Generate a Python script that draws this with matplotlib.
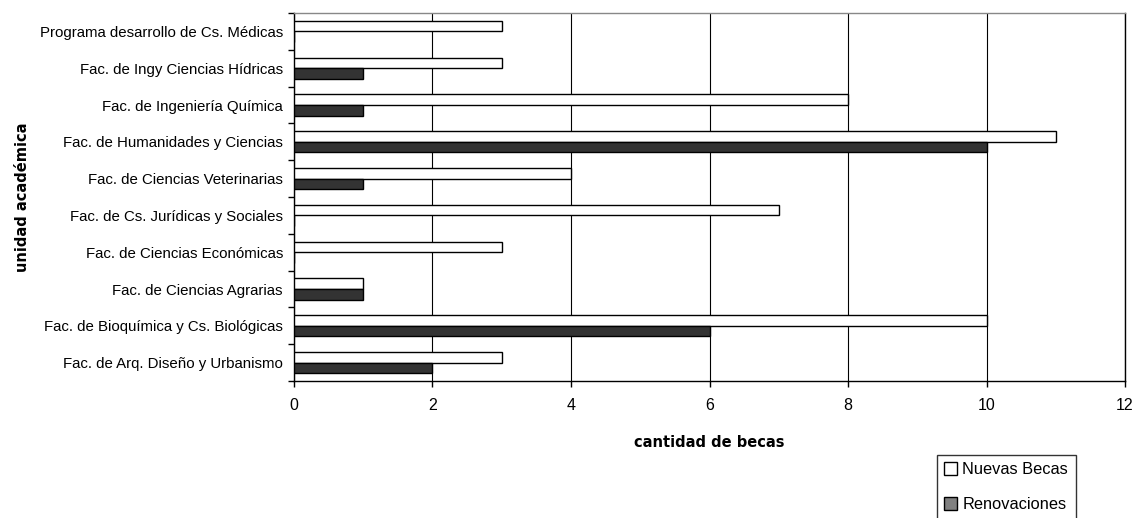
import matplotlib
matplotlib.use("Agg")
import matplotlib.pyplot as plt
from matplotlib.patches import Patch
import numpy as np

# categories bottom -> top, as they show on the chart
unidades = [
    "Fac. de Arq. Diseño y Urbanismo",
    "Fac. de Bioquímica y Cs. Biológicas",
    "Fac. de Ciencias Agrarias",
    "Fac. de Ciencias Económicas",
    "Fac. de Cs. Jurídicas y Sociales",
    "Fac. de Ciencias Veterinarias",
    "Fac. de Humanidades y Ciencias",
    "Fac. de Ingeniería Química",
    "Fac. de Ingy Ciencias Hídricas",
    "Programa desarrollo de Cs. Médicas",
]
nuevas = [3, 10, 1, 3, 7, 4, 11, 8, 3, 3]
renovaciones = [2, 6, 1, 0, 0, 1, 10, 1, 1, 0]
xticks = [0, 2, 4, 6, 8, 10, 12]

plt.rcParams['font.family'] = ['Liberation Sans', 'DejaVu Sans']

fig = plt.figure(figsize=(11.39, 5.18), dpi=100)
ax = fig.add_axes([294/1139, 1-381/518, (1125-294)/1139, (381-13)/518])

y = np.arange(len(unidades))
h = 0.29
ax.barh(y + h/2, nuevas, height=h, color='white', edgecolor='black', linewidth=1, zorder=3)
ax.barh(y - h/2, renovaciones, height=h, color='#333333', edgecolor='black', linewidth=1, zorder=3)

ax.set_xlim(0, 12)
ax.set_ylim(-0.5, len(unidades) - 0.5)
ax.set_xticks(xticks)
ax.set_xticklabels([str(v) for v in xticks], fontsize=11.5)
ax.set_yticks(y)
ax.set_yticklabels(unidades, fontsize=10.8)
ax.tick_params(axis='y', length=0, pad=8)
# little ticks between categories
ax.set_yticks(np.arange(-0.5, len(unidades)), minor=True)
ax.tick_params(axis='y', which='minor', length=4, width=1, direction='out')
ax.tick_params(axis='x', length=4, width=1, direction='out', pad=8)
ax.grid(axis='x', color='black', linewidth=0.8, zorder=0)
for s in ax.spines.values():
    s.set_linewidth(1)
ax.spines['top'].set_color('#888888')
ax.spines['right'].set_color('black')

ax.set_xlabel('cantidad de becas', fontsize=10.5, fontweight='bold', family='DejaVu Sans', labelpad=16)
ax.set_ylabel('unidad académica', fontsize=10.5, fontweight='bold', family='DejaVu Sans', labelpad=7)

handles = [Patch(facecolor='white', edgecolor='black', label='Nuevas Becas'),
           Patch(facecolor='#808080', edgecolor='black', label='Renovaciones')]
leg = fig.legend(handles=handles, loc='upper left', bbox_to_anchor=(937/1139, 1-455/518),
                 fontsize=11.8, frameon=True, fancybox=False, edgecolor='black',
                 handlelength=0.8, handleheight=0.8, handletextpad=0.3,
                 labelspacing=1.2, borderpad=0.45, borderaxespad=0)
leg.get_frame().set_linewidth(1)

fig.savefig('out.png', dpi=100)
